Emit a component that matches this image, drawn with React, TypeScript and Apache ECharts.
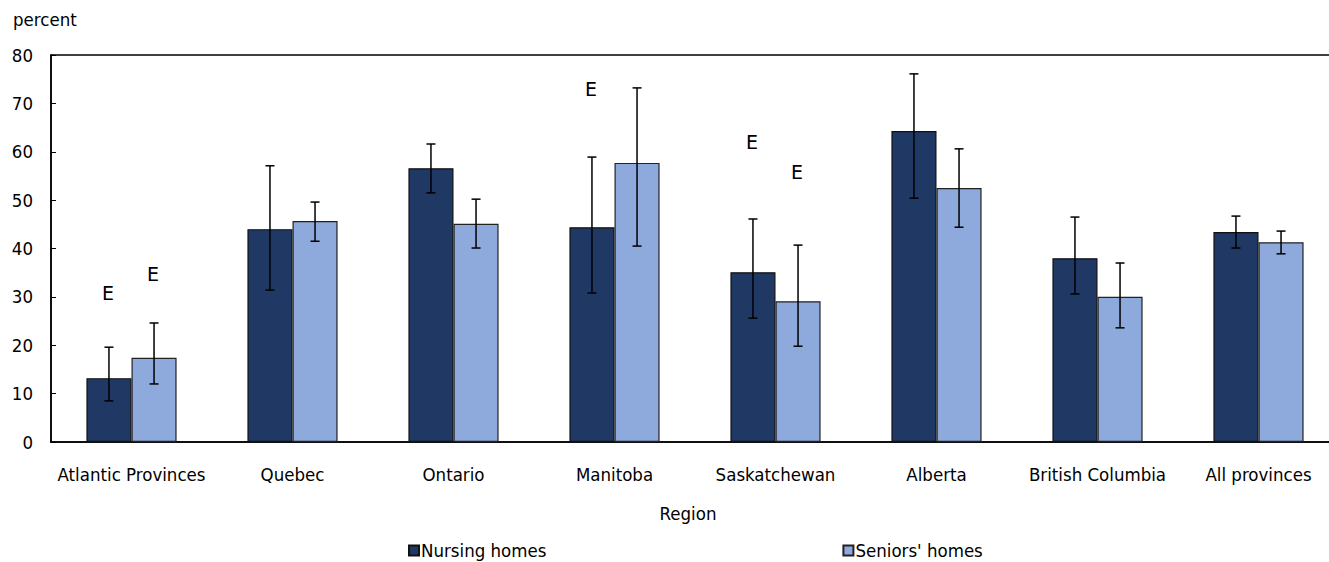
import React, { useEffect, useRef } from "react";
import * as echarts from "echarts";

// Share of residents, by region and type of home (percent)
const categories = [
  "Atlantic Provinces",
  "Quebec",
  "Ontario",
  "Manitoba",
  "Saskatchewan",
  "Alberta",
  "British Columbia",
  "All provinces",
];
const nursing = [13.2, 44.0, 56.6, 44.4, 35.1, 64.3, 38.0, 43.4];
const nursingLow = [8.5, 31.4, 51.5, 30.8, 25.6, 50.4, 30.6, 40.1];
const nursingHigh = [19.6, 57.1, 61.6, 58.9, 46.1, 76.1, 46.5, 46.7];
const seniors = [17.4, 45.7, 45.1, 57.7, 29.1, 52.5, 30.0, 41.3];
const seniorsLow = [12.0, 41.5, 40.1, 40.5, 19.8, 44.4, 23.6, 38.9];
const seniorsHigh = [24.6, 49.6, 50.2, 73.2, 40.7, 60.6, 37.0, 43.6];
// Height at which the "E" (use with caution) flag sits; null = no flag
const nursingFlag: (number | null)[] = [30.8, null, null, 73.0, 62.0, null, null, null];
const seniorsFlag: (number | null)[] = [34.7, null, null, null, 55.8, null, null, null];
const yTicks = { min: 0, max: 80, interval: 10 };

const FONT = '"DejaVu Sans Condensed", "Liberation Sans Narrow", sans-serif';
const FS = 18.5;
const GAP = 0.44;

export default function App() {
  const ref = useRef<HTMLDivElement>(null);

  useEffect(() => {
    if (!ref.current) return;
    const chart = echarts.init(ref.current, null, { renderer: "svg" });

    const errData: number[][] = [];
    categories.forEach((_, i) => {
      errData.push([i, nursingLow[i], nursingHigh[i], 0, nursingFlag[i] ?? -1]);
      errData.push([i, seniorsLow[i], seniorsHigh[i], 1, seniorsFlag[i] ?? -1]);
    });

    chart.setOption({
      animation: false,
      textStyle: { fontFamily: FONT, color: "#000" },
      grid: {
        left: 51,
        top: 55,
        width: 1288,
        height: 387,
        show: true,
        borderColor: "#000",
        borderWidth: 1.5,
      },
      graphic: [
        {
          type: "text",
          left: 13,
          top: 10,
          style: { text: "percent", fontSize: FS, fontFamily: FONT, fill: "#000" },
        },
      ],
      legend: {
        left: 403,
        top: 536,
        itemWidth: 10,
        itemHeight: 10,
        itemGap: 296,
        icon: "rect",
        textStyle: { fontSize: FS, fontFamily: FONT, color: "#000", padding: [0, 0, 0, -3] },
        data: ["Nursing homes", "Seniors' homes"],
      },
      xAxis: {
        type: "category",
        data: categories,
        name: "Region",
        nameLocation: "middle",
        nameGap: 62,
        nameTextStyle: { fontSize: FS, fontFamily: FONT, color: "#000", padding: [0, 14, 0, 0] },
        axisLine: { lineStyle: { color: "#000", width: 1.5 } },
        axisTick: { show: false },
        axisLabel: { fontSize: FS, margin: 23, color: "#000", fontFamily: FONT, interval: 0 },
      },
      yAxis: {
        type: "value",
        min: yTicks.min,
        max: yTicks.max,
        interval: yTicks.interval,
        axisLine: { show: true, lineStyle: { color: "#000", width: 1.5 } },
        axisTick: { show: true, inside: true, length: 5, lineStyle: { color: "#000" } },
        splitLine: { show: false },
        axisLabel: { fontSize: FS, margin: 18, color: "#000", fontFamily: FONT },
      },
      series: [
        {
          name: "Nursing homes",
          type: "bar",
          data: nursing,
          barGap: "0%",
          barCategoryGap: GAP * 100 + "%",
          itemStyle: { color: "#1F3864", borderColor: "#111", borderWidth: 1.2 },
        },
        {
          name: "Seniors' homes",
          type: "bar",
          data: seniors,
          itemStyle: { color: "#8EA9DB", borderColor: "#222", borderWidth: 1.2 },
        },
        {
          type: "custom",
          z: 10,
          silent: true,
          data: errData,
          encode: { x: 0, y: [1, 2] },
          renderItem: (params: any, api: any) => {
            const cat = api.value(0);
            const low = api.value(1);
            const high = api.value(2);
            const side = api.value(3);
            const flag = api.value(4);
            const catW = api.size([1, 0])[0];
            const barW = (catW * (1 - GAP)) / 2;
            const base = api.coord([cat, low]);
            const top = api.coord([cat, high]);
            const x = base[0] + (side === 0 ? -barW / 2 : barW / 2);
            const cap = 4.5;
            const ls = { stroke: "#000", lineWidth: 1.5 };
            const children: any[] = [
              { type: "line", shape: { x1: x, y1: base[1], x2: x, y2: top[1] }, style: ls },
              { type: "line", shape: { x1: x - cap, y1: base[1], x2: x + cap, y2: base[1] }, style: ls },
              { type: "line", shape: { x1: x - cap, y1: top[1], x2: x + cap, y2: top[1] }, style: ls },
            ];
            if (flag >= 0) {
              const p = api.coord([cat, flag]);
              children.push({
                type: "text",
                x: x - 1,
                y: p[1],
                style: {
                  text: "E",
                  fontSize: 19,
                  fontFamily: '"DejaVu Sans", sans-serif',
                  fill: "#000",
                  align: "center",
                  verticalAlign: "middle",
                },
              });
            }
            return { type: "group", children };
          },
        },
      ],
    });

    return () => chart.dispose();
  }, []);

  return (
    <div
      style={{
        position: "absolute",
        left: 0,
        top: 0,
        width: 1329,
        height: 562,
        overflow: "hidden",
        background: "#fff",
      }}
    >
      <div ref={ref} style={{ width: 1345, height: 562 }} />
    </div>
  );
}
